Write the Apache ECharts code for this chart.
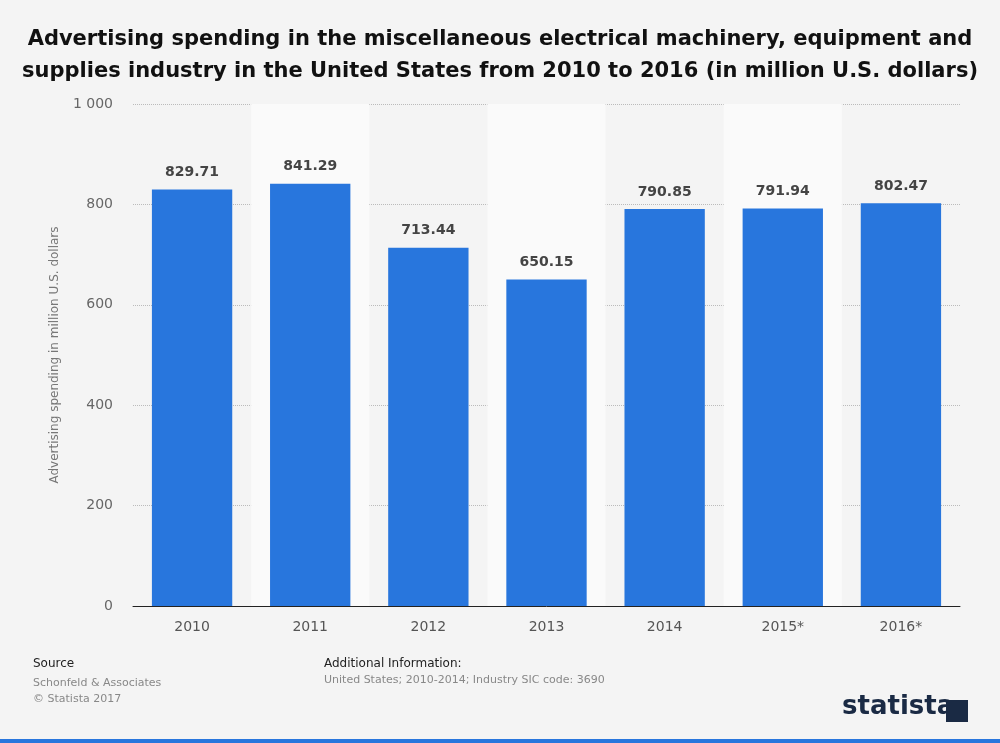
<!DOCTYPE html>
<html>
<head>
<meta charset="utf-8">
<script src="https://cdn.jsdelivr.net/npm/echarts@6/dist/echarts.min.js"></script>
<style>html,body{margin:0;padding:0;background:#f4f4f4}#chart{width:1000px;height:743px}</style>
</head>
<body>
<div id="chart"></div>
<script>
let years = ['2010', '2011', '2012', '2013', '2014', '2015*', '2016*'];
let spending = [829.71, 841.29, 713.44, 650.15, 790.85, 791.94, 802.47];

let chart = echarts.init(document.getElementById('chart'));
const FF = 'DejaVu Sans';

let option = {
	backgroundColor: '#f4f4f4',
	textStyle: { fontFamily: FF },
	title: {
		text: 'Advertising spending in the miscellaneous electrical machinery, equipment and\nsupplies industry in the United States from 2010 to 2016 (in million U.S. dollars)',
		left: 'center',
		top: 19,
		textStyle: { fontFamily: FF, fontSize: 21, fontWeight: 'bold', color: '#111', lineHeight: 32 }
	},
	grid: { left: 133, right: 40, top: 104, bottom: 137 },
	xAxis: {
		type: 'category',
		data: years,
		axisLine: { lineStyle: { color: '#222' } },
		axisTick: { show: false },
		axisLabel: { color: '#555', fontSize: 14, margin: 14 },
		splitArea: { show: true, areaStyle: { color: ['rgba(0,0,0,0)', '#fafafa'] } }
	},
	yAxis: {
		type: 'value',
		min: 0,
		max: 1000,
		interval: 200,
		name: 'Advertising spending in million U.S. dollars',
		nameLocation: 'middle',
		nameGap: 72,
		nameTextStyle: { color: '#777', fontSize: 12 },
		axisLabel: {
			color: '#666', fontSize: 14, margin: 20,
			formatter: v => v >= 1000 ? '1 000' : String(v)
		},
		splitLine: { lineStyle: { color: '#bbb', type: 'dotted' } }
	},
	series: [{
		type: 'bar',
		data: spending,
		barWidth: '68%',
		itemStyle: { color: '#2876dd' },
		label: {
			show: true,
			position: 'top',
			distance: 10,
			color: '#444',
			fontSize: 14,
			fontWeight: 'bold',
			formatter: p => p.value.toFixed(2)
		}
	}],
	graphic: [
		{ type: 'text', left: 33, top: 658, style: { text: 'Source', fontFamily: FF, fontSize: 12, fill: '#222' } },
		{ type: 'text', left: 33, top: 675, style: { text: 'Schonfeld & Associates\n© Statista 2017', fontFamily: FF, fontSize: 11, fill: '#888', lineHeight: 16 } },
		{ type: 'text', left: 324, top: 658, style: { text: 'Additional Information:', fontFamily: FF, fontSize: 12, fill: '#222' } },
		{ type: 'text', left: 324, top: 675, style: { text: 'United States; 2010-2014; Industry SIC code: 3690', fontFamily: FF, fontSize: 11, fill: '#888' } },
		{ type: 'text', left: 842, top: 694, style: { text: 'statista', fontFamily: FF, fontSize: 26, fontWeight: 'bold', fill: '#1a2a44' } },
		{ type: 'rect', shape: { x: 946, y: 700, width: 22, height: 22 }, style: { fill: '#1a2a44' } },
		{ type: 'rect', shape: { x: 0, y: 739, width: 1000, height: 4 }, style: { fill: '#2876dd' } }
	]
};

chart.setOption(option);
</script>
</body>
</html>
